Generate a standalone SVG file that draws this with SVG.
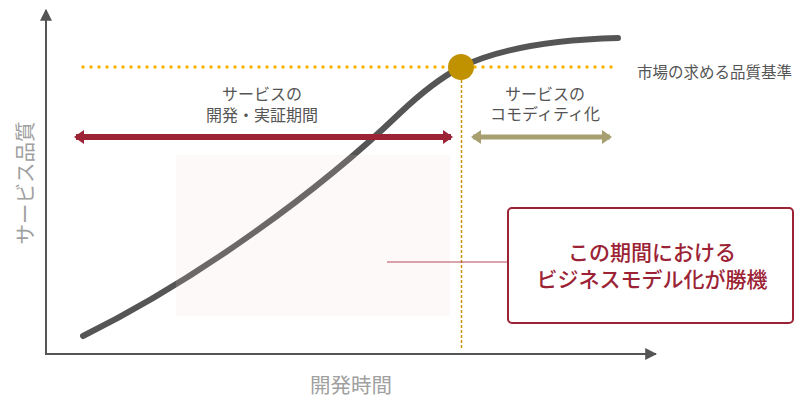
<svg xmlns="http://www.w3.org/2000/svg" width="794" height="398" viewBox="0 0 794 398">
<defs>
<style>
.t{font-family:"Noto Sans CJK JP","Noto Sans",sans-serif;}
.lbl{font-size:16px;fill:#555;text-anchor:middle;}
.ax{font-size:20.5px;fill:#a0a0a0;text-anchor:middle;}
.key{font-size:21px;fill:#9b2335;text-anchor:middle;font-weight:500;}
</style>
<marker id="axh" viewBox="0 0 10 10" refX="9" refY="5" markerWidth="12" markerHeight="12" markerUnits="userSpaceOnUse" orient="auto"><path d="M0,0 L10,5 L0,10 Z" fill="#555"/></marker>
<marker id="rh" viewBox="0 0 10 14" refX="8" refY="7" markerWidth="10" markerHeight="14" markerUnits="userSpaceOnUse" orient="auto-start-reverse"><path d="M0,0 L10,7 L0,14 Z" fill="#9b2335"/></marker>
<marker id="oh" viewBox="0 0 10 14" refX="8" refY="7" markerWidth="10" markerHeight="14" markerUnits="userSpaceOnUse" orient="auto-start-reverse"><path d="M0,0 L10,7 L0,14 Z" fill="#a79f70"/></marker>
</defs>
<rect width="794" height="398" fill="#fff"/>
<g id="axes">
<line x1="46" y1="354" x2="46" y2="10" stroke="#555" stroke-width="2" marker-end="url(#axh)"/>
<line x1="45" y1="354" x2="656" y2="354" stroke="#555" stroke-width="2" marker-end="url(#axh)"/>
<text class="t ax" transform="translate(33,183) rotate(-90)">サービス品質</text>
<text class="t ax" x="351" y="393">開発時間</text>
</g>
<g id="standard">
<line x1="83" y1="67" x2="612" y2="67" stroke="#f6b400" stroke-width="3.5" stroke-linecap="round" stroke-dasharray="0 8"/>
<text class="t" x="637" y="78" font-size="15.5" fill="#555">市場の求める品質基準</text>
</g>
<g id="curve">
<path d="M83,336 C200,278 320,190 400,113 C420,94 440,78 461,67 C490,53 540,40 618,38" fill="none" stroke="#555" stroke-width="6" stroke-linecap="round"/>
</g>
<g id="window">
<rect x="176" y="155" width="274" height="161" fill="#f2d6d6" fill-opacity="0.15"/>
</g>
<g id="connectors">
<line x1="461.5" y1="80" x2="461.5" y2="348" stroke="#c8940a" stroke-width="1.5" stroke-dasharray="3 2"/>
<line x1="76" y1="137" x2="451" y2="137" stroke="#9b2335" stroke-width="6" marker-start="url(#rh)" marker-end="url(#rh)"/>
<line x1="473" y1="137" x2="610" y2="137" stroke="#a79f70" stroke-width="5" marker-start="url(#oh)" marker-end="url(#oh)"/>
<line x1="387" y1="262" x2="508" y2="262" stroke="#b5485a" stroke-width="1"/>
</g>
<g id="point">
<circle cx="461" cy="67" r="13" fill="#c09200"/>
</g>
<g id="dev-label">
<text class="t lbl" x="262" y="100">サービスの</text>
<text class="t lbl" x="262" y="121">開発・実証期間</text>
</g>
<g id="comm-label">
<text class="t lbl" x="545" y="100">サービスの</text>
<text class="t lbl" x="545" y="120">コモディティ化</text>
</g>
<g id="key-box">
<rect x="508" y="208" width="285" height="115" rx="4" fill="#fff" stroke="#9b2335" stroke-width="2"/>
<text class="t key" x="652" y="260">この期間における</text>
<text class="t key" x="652" y="287">ビジネスモデル化が勝機</text>
</g>
</svg>
